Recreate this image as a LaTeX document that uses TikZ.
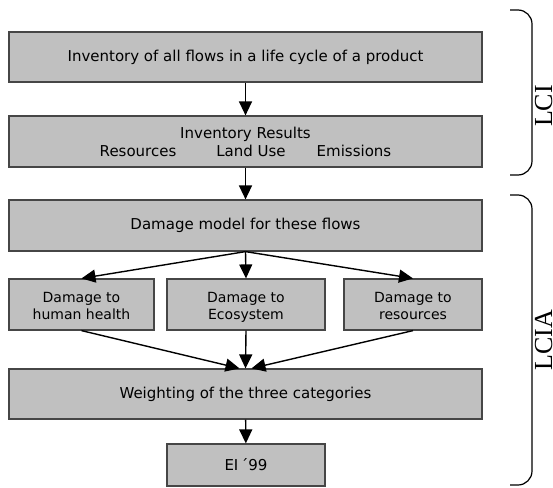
\documentclass[tikz,border=0pt]{standalone}
\usepackage{fontspec}
\setmainfont{DejaVu Sans}
\newfontfamily\phasefont{Liberation Serif}
\usetikzlibrary{arrows.meta}
\definecolor{boxgray}{RGB}{192,192,192}
\definecolor{edgegray}{RGB}{70,70,70}
\newcommand{\toprule}{\rule{0pt}{18pt}}
\tikzset{
  stage/.style={draw=edgegray, fill=boxgray, line width=1.2pt, minimum height=51pt,
    inner sep=0pt, align=center, font=\fontsize{15}{18}\selectfont},
  part/.style={stage, font=\fontsize{14}{17}\selectfont},
  flow/.style={-{Triangle[width=13pt,length=14pt]}, line width=1.4pt},
  bracket/.style={line width=1.2pt, rounded corners=14pt},
  phase/.style={rotate=90, anchor=base, inner sep=0pt, font=\phasefont\fontsize{26}{26}\selectfont}
}

\begin{document}
\begin{tikzpicture}[x=1pt,y=-1pt]
  \useasboundingbox (0,0) rectangle (553,487);
  % inventory part
  \node[stage, minimum width=473pt, minimum height=50pt] (inv) at (245.5,57) {Inventory of all flows in a life cycle of a product};
  \node[stage, minimum width=473pt] (res) at (245.5,141.5)
    {Inventory Results\\Resources\hspace{40pt}Land Use\hspace{31pt}Emissions};
  % impact assessment part
  \node[stage, minimum width=473pt] (dmg) at (245.5,225.5) {Damage model for these flows};
  \node[part, minimum width=145pt] (hh) at (81.5,304.5) {\toprule Damage to\\human health\strut};
  \node[part, minimum width=158pt] (eco) at (246,304.5) {\toprule Damage to\\Ecosystem\strut};
  \node[part, minimum width=138pt] (rsc) at (413,304.5) {\toprule Damage to\\resources\strut};
  \node[stage, minimum width=473pt, minimum height=50pt] (wgt) at (245.5,394) {Weighting of the three categories};
  \node[stage, minimum width=158pt, minimum height=42pt] (ei) at (246,465) {EI\,´99};

  \draw[flow] (inv) -- (res);
  \draw[flow] (res) -- (dmg);
  \foreach \dst in {hh,eco,rsc}
    \draw[flow] (dmg.south) -- (\dst.north);
  \draw[flow] (hh.south) -- ([xshift=-6pt]wgt.north);
  \draw[flow] (eco.south) -- (wgt.north);
  \draw[flow] (rsc.south) -- ([xshift=6pt]wgt.north);
  \draw[flow] (wgt) -- (ei);

  % phase brackets
  \draw[bracket] (510,10) -- (532,10) -- (532,175) -- (510,175);
  \draw[bracket] (510,195) -- (532,195) -- (532,485) -- (510,485);
  \node[phase] (lci) at (552,106) {LCI};
  \node[phase] (lcia) at (552,340) {LCIA};
\end{tikzpicture}
\end{document}
